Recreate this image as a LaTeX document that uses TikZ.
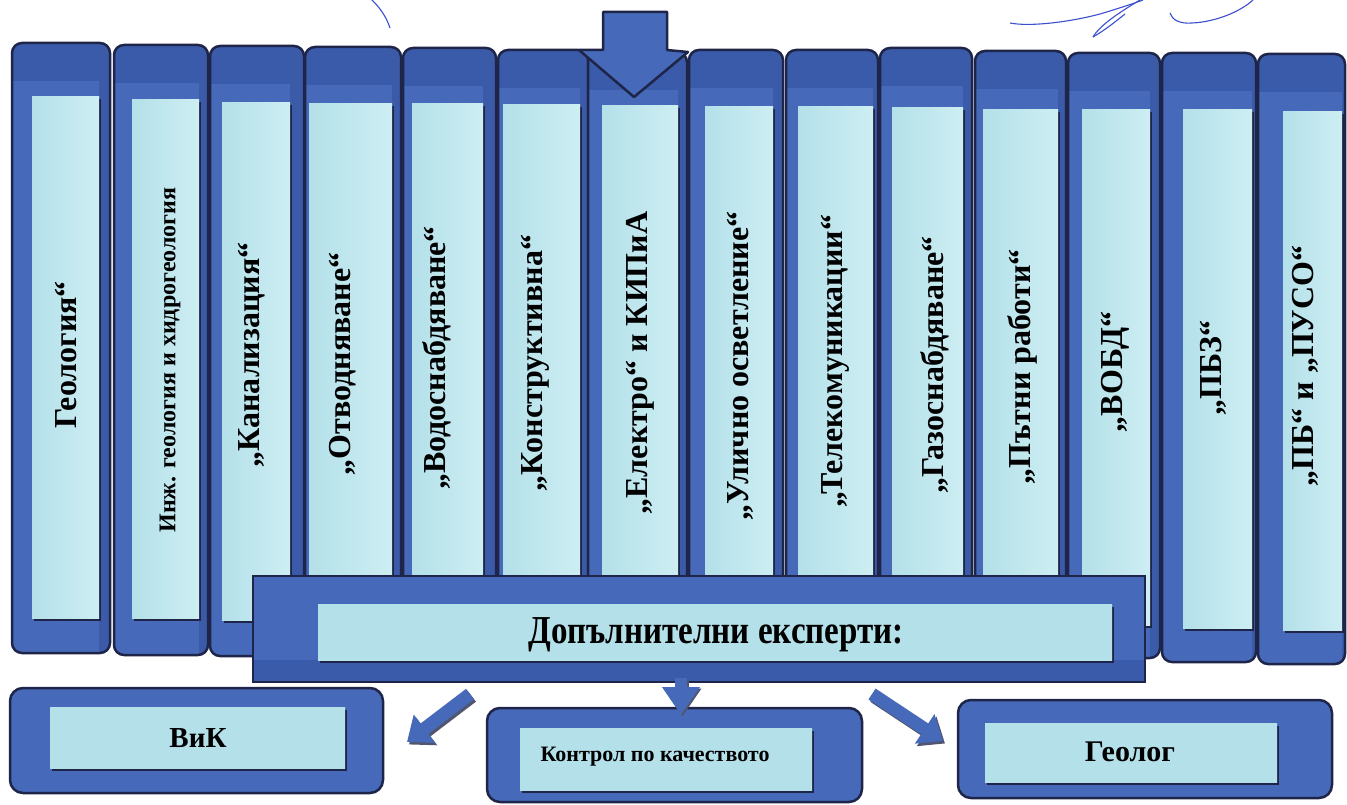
\documentclass[tikz,border=0pt]{standalone}
\usepackage{fontspec}
\setmainfont{Liberation Serif}
\usetikzlibrary{arrows.meta}
\definecolor{mblue}{HTML}{4669B9}
\definecolor{dband}{HTML}{3A5AAA}
\definecolor{rstrip}{HTML}{3B5AA8}
\definecolor{navy}{HTML}{1E2548}
\definecolor{cyanL}{HTML}{B4E0E9}
\definecolor{cyanR}{HTML}{CDEEF3}
\definecolor{cyanM}{HTML}{DDF4F7}
\definecolor{sig}{HTML}{3B4FCF}
\definecolor{ashadow}{HTML}{50566F}
\tikzset{
  outline/.style={draw=navy, line width=2.5pt},
  innerfill/.style={left color=cyanL, right color=cyanR},
  innerfillh/.style={top color=cyanL, middle color=cyanM, bottom color=cyanL},
  coltext/.style={rotate=90, inner sep=0pt, font=\bfseries\fontsize{32}{36}\selectfont},
  boxtext/.style={inner sep=0pt, font=\bfseries\fontsize{29}{32}\selectfont},
  blockarrow/.style={line width=13pt, -{Triangle[length=22pt,width=34pt]}},
  sigline/.style={draw=sig, line width=1.1pt}
}
\newcommand\mycol[8]{%
  \begin{scope}
    \clip[rounded corners=10pt] (#1,#3) rectangle (#2,#4);
    \fill[mblue] (#1,#3) rectangle (#2,#4);
    \fill[dband] (#1,#3) rectangle (#2,{#3+38});
    \fill[rstrip] (#6,#3) rectangle (#2,#4);
  \end{scope}
  \draw[outline, rounded corners=10pt] (#1,#3) rectangle (#2,#4);
  \fill[navy] ({#5+1.5},{#7+2.5}) rectangle ({#6+1.5},{#8+2.5});
  \fill[innerfill] (#5,#7) rectangle (#6,#8);
}
\begin{document}
\begin{tikzpicture}[x=1pt,y=-1pt]
\useasboundingbox (0,0) rectangle (1347,805);
\fill[white] (0,0) rectangle (1347,805);

% signature strokes
\draw[sigline] (372,0) .. controls (380,8) and (386,16) .. (390,28);
\draw[sigline] (1010,23) .. controls (1030,27) and (1070,22) .. (1100,14) .. controls (1120,8) and (1135,3) .. (1143,0);
\draw[sigline] (1093,37) .. controls (1100,25) and (1120,12) .. (1140,0);
\draw[sigline] (1093,37) .. controls (1105,30) and (1115,22) .. (1125,14);
\draw[sigline] (1170,13) .. controls (1172,20) and (1180,24) .. (1192,23) .. controls (1215,22) and (1240,12) .. (1253,0);

% columns
\mycol{12}{110}{43}{653}{32}{99}{97}{618}
\mycol{114}{208}{45}{655}{132}{199}{100}{618}
\mycol{210}{304}{46}{656}{222}{290}{103}{620}
\mycol{305}{401}{47}{656}{309}{392}{104}{620}
\mycol{403}{496}{48}{657}{412}{483}{104}{620}
\mycol{498}{588}{50}{658}{503}{580}{105}{621}
\mycol{588}{687}{52}{659}{602}{678}{106}{622}
\mycol{689}{783}{50}{660}{705}{773}{107}{623}
\mycol{786}{878}{50}{660}{798}{873}{107}{623}
\mycol{880}{972}{48}{660}{892}{963}{108}{623}
\mycol{975}{1066}{51}{661}{983}{1058}{110}{624}
\mycol{1068}{1160}{53}{658}{1082}{1150}{110}{625}
\mycol{1162}{1256}{53}{662}{1183}{1252}{110}{628}
\mycol{1258}{1345}{54}{664}{1283}{1342}{112}{630}

% top arrow
\draw[outline, fill=mblue, line join=round] (603,12) -- (667,12) -- (667,50) -- (688,52) -- (634,97) -- (579,50) -- (603,50) -- cycle;

% column texts
\node[coltext] (c1) at (66,355) {Геология“};
\node[coltext, font=\bfseries\fontsize{24}{28}\selectfont] (c2) at (170,360) {Инж. геология и хидрогеология};
\node[coltext] (c3) at (252,355) {„Канализация“};
\node[coltext] (c4) at (343,364) {„Отводняване“};
\node[coltext] (c5) at (437,358) {„Водоснабдяване“};
\node[coltext] (c6) at (535,363) {„Конструктивна“};
\node[coltext] (c7) at (640,363) {„Електро“ и КИПиА};
\node[coltext] (c8) at (740,366) {„Улично осветление“};
\node[coltext] (c9) at (835,361) {„Телекомуникации“};
\node[coltext] (c10) at (935,365) {„Газоснабдяване“};
\node[coltext] (c11) at (1022,367) {„Пътни работи“};
\node[coltext] (c12) at (1115,372) {„ВОБД“};
\node[coltext] (c13) at (1213,368) {„ПБЗ“};
\node[coltext] (c14) at (1305,366) {„ПБ“ и „ПУСО“};

% main box
\fill[mblue] (253,576) rectangle (1145,682);
\fill[dband] (253,660) rectangle (1145,682);
\draw[outline] (253,576) rectangle (1145,682);
\fill[navy] (319.5,606.5) rectangle (1113.5,662.5);
\fill[innerfillh] (318,604) rectangle (1112,660);
\node[boxtext, font=\bfseries\fontsize{33}{36}\selectfont] (main) at (716,635) {\scalebox{1}[1.2]{Допълнителни експерти:}};

% bottom boxes
\draw[outline, fill=mblue, rounded corners=13pt] (10,688) rectangle (383,793);
\fill[navy] (51.5,709.5) rectangle (346.5,770.5);
\fill[innerfillh] (50,707) rectangle (345,768);
\node[boxtext] (vik) at (198,738) {ВиК};

\draw[outline, fill=mblue, rounded corners=13pt] (487,708) rectangle (862,802);
\fill[navy] (521.5,730.5) rectangle (813.5,792.5);
\fill[innerfillh] (520,728) rectangle (812,790);
\node[boxtext, font=\bfseries\fontsize{22}{26}\selectfont] (kk) at (655,757) {Контрол по качеството};

\draw[outline, fill=mblue, rounded corners=13pt] (958,700) rectangle (1332,798);
\fill[navy] (986.5,725.5) rectangle (1278.5,784.5);
\fill[innerfillh] (985,723) rectangle (1277,782);
\node[boxtext, font=\bfseries\fontsize{30}{33}\selectfont] (geo) at (1130,752) {Геолог};

% arrows from main box
\coordinate (aLs) at (470,694);
\coordinate (aLe) at (407,742);
\coordinate (aMs) at (681,678);
\coordinate (aMe) at (681,715);
\coordinate (aRs) at (872,694);
\coordinate (aRe) at (943,741);
\foreach \s/\e in {aLs/aLe, aRs/aRe}{
  \draw[blockarrow, ashadow] ([shift={(2,2.5)}]\s) -- ([shift={(2,2.5)}]\e);
  \draw[blockarrow, mblue] (\s) -- (\e);
}
\draw[line width=12pt, -{Triangle[length=28pt,width=36pt]}, ashadow] ([shift={(1.5,1.5)}]aMs) -- ([shift={(1.5,1.5)}]aMe);
\draw[line width=12pt, -{Triangle[length=28pt,width=36pt]}, mblue] (aMs) -- (aMe);
\end{tikzpicture}
\end{document}
